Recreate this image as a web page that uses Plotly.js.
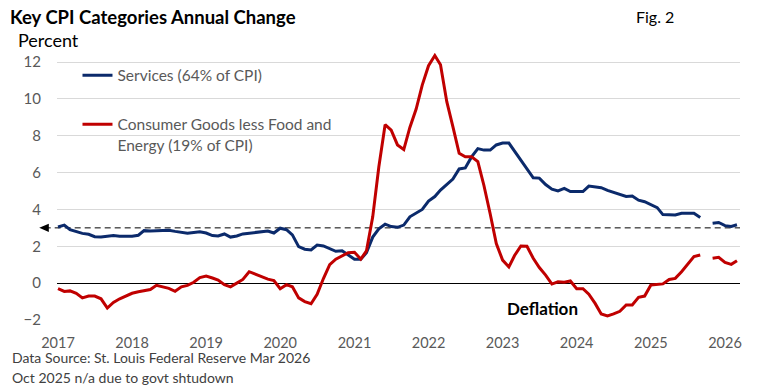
<!DOCTYPE html>
<html>
<head>
<meta charset="utf-8">
<script src="https://cdn.plot.ly/plotly-3.0.1.min.js"></script>
<style>
  html, body { margin: 0; padding: 0; background: #ffffff; }
  #chart { width: 769px; height: 390px; }
</style>
</head>
<body>
<div id="chart"></div>
<script>
// Monthly series, Jan 2017 .. Mar 2026 (Oct 2025 not available)
const startYear = 2017;
const startMonth = 1;

const servicesPct = [
  3.05, 3.15, 2.90, 2.78, 2.70, 2.65, 2.52, 2.50, 2.55, 2.58, 2.55, 2.55,   // 2017
  2.55, 2.60, 2.85, 2.83, 2.85, 2.85, 2.87, 2.81, 2.76, 2.71, 2.75, 2.79,   // 2018
  2.72, 2.58, 2.56, 2.67, 2.50, 2.56, 2.67, 2.72, 2.76, 2.80, 2.83, 2.72,   // 2019
  2.98, 2.90, 2.62, 1.98, 1.84, 1.80, 2.07, 2.02, 1.89, 1.73, 1.76, 1.53,   // 2020
  1.30, 1.30, 1.65, 2.50, 2.95, 3.20, 3.07, 3.03, 3.15, 3.60, 3.80, 4.00,   // 2021
  4.45, 4.70, 5.05, 5.35, 5.65, 6.20, 6.25, 6.85, 7.30, 7.22, 7.22, 7.50,   // 2022
  7.60, 7.60, 7.15, 6.70, 6.20, 5.72, 5.70, 5.35, 5.10, 5.00, 5.14, 4.97,   // 2023
  4.97, 4.97, 5.27, 5.22, 5.18, 5.03, 4.92, 4.84, 4.70, 4.73, 4.50, 4.42,   // 2024
  4.28, 4.10, 3.72, 3.70, 3.70, 3.79, 3.79, 3.79, 3.56, null, 3.25, 3.29,   // 2025
  3.12, 3.08, 3.17                                                          // 2026
];

const coreGoodsPct = [
  -0.30, -0.45, -0.42, -0.55, -0.80, -0.70, -0.70, -0.85, -1.35, -1.05, -0.85, -0.72, // 2017
  -0.55, -0.47, -0.42, -0.35, -0.12, -0.22, -0.28, -0.44, -0.20, -0.12, 0.05, 0.30,   // 2018
  0.38, 0.28, 0.17, -0.08, -0.20, 0.00, 0.20, 0.62, 0.48, 0.35, 0.22, 0.14,           // 2019
  -0.30, -0.08, -0.20, -0.80, -1.00, -1.12, -0.60, 0.25, 1.00, 1.30, 1.50, 1.65,      // 2020
  1.68, 1.30, 1.75, 3.60, 6.30, 8.60, 8.30, 7.50, 7.25, 8.45, 9.45, 10.75,            // 2021
  11.80, 12.35, 11.85, 9.85, 8.50, 7.05, 6.86, 6.86, 6.60, 5.30, 3.75, 2.15,          // 2022
  1.25, 0.88, 1.50, 2.02, 2.00, 1.35, 0.85, 0.44, -0.05, 0.07, 0.05, 0.12,            // 2023
  -0.30, -0.30, -0.60, -1.10, -1.67, -1.78, -1.67, -1.53, -1.18, -1.18, -0.77, -0.70, // 2024
  -0.10, -0.05, -0.04, 0.20, 0.26, 0.62, 1.04, 1.44, 1.53, null, 1.35, 1.40,          // 2025
  1.13, 1.02, 1.22                                                                    // 2026
];

const seriesNames = [
  "Services (64% of CPI)",
  "Consumer Goods less Food and<br>Energy (19% of CPI)"
];
const seriesColors = ["#0B2A6B", "#C00000"];

const yearLabels = ["2017","2018","2019","2020","2021","2022","2023","2024","2025","2026"];
const yTicks = [-2, 0, 2, 4, 6, 8, 10, 12];
const targetRate = 3;

function monthDate(i) {
  const total = (startMonth - 1) + i;
  const y = startYear + Math.floor(total / 12);
  const m = (total % 12) + 1;
  return y + "-" + String(m).padStart(2, "0") + "-01";
}
const months = servicesPct.map((_, i) => monthDate(i));
const yearTickVals = yearLabels.map(y => y + "-01-01");

const FONT = "Lato, 'Open Sans', sans-serif";

const traces = [
  {
    x: months, y: servicesPct, type: "scatter", mode: "lines",
    name: seriesNames[0], legendgroup: "a",
    line: { color: seriesColors[0], width: 3 },
    connectgaps: false, hoverinfo: "skip"
  },
  {
    x: months, y: coreGoodsPct, type: "scatter", mode: "lines",
    name: seriesNames[1], legendgroup: "b",
    line: { color: seriesColors[1], width: 3 },
    connectgaps: false, hoverinfo: "skip"
  }
];

const layout = {
  width: 769, height: 390,
  margin: { l: 57, r: 29, t: 53, b: 70 },
  paper_bgcolor: "#ffffff", plot_bgcolor: "#ffffff",
  font: { family: FONT, color: "#595959" },
  title: {
    text: "<b>Key CPI Categories Annual Change</b>",
    x: 0.013, xref: "container", xanchor: "left",
    y: 0.956, yref: "container", yanchor: "middle",
    font: { family: FONT, size: 18.5, color: "#000000" }
  },
  showlegend: true,
  legend: {
    x: 0.030, y: 0.979, xanchor: "left", yanchor: "top",
    bgcolor: "rgba(0,0,0,0)",
    font: { family: FONT, size: 15.5, color: "#595959" },
    traceorder: "grouped", tracegroupgap: 26, valign: "top",
    itemwidth: 30
  },
  xaxis: {
    type: "date",
    range: ["2016-12-27", "2026-03-16"],
    tickmode: "array", tickvals: yearTickVals, ticktext: yearLabels,
    showgrid: false, zeroline: false, showline: false, ticks: "",
    ticklabelstandoff: 12,
    tickfont: { family: FONT, size: 14.5, color: "#595959" },
    fixedrange: true
  },
  yaxis: {
    range: [-2, 12.49],
    tickmode: "array", tickvals: yTicks,
    showgrid: true, gridcolor: "#D9D9D9", gridwidth: 1,
    zeroline: true, zerolinecolor: "#000000", zerolinewidth: 1,
    showline: false, ticks: "",
    ticklabelstandoff: 15,
    tickfont: { family: FONT, size: 15, color: "#595959" },
    fixedrange: true
  },
  shapes: [
    {
      type: "line", xref: "paper", yref: "y",
      x0: -0.018, x1: 1, y0: targetRate, y1: targetRate,
      line: { color: "#000000", width: 1, dash: "6px,4px" }, layer: "below"
    },
    {
      type: "path", xref: "paper", yref: "y",
      path: "M -0.026 " + targetRate + " L -0.012 " + (targetRate + 0.23) +
            " L -0.012 " + (targetRate - 0.23) + " Z",
      fillcolor: "#000000", line: { color: "#000000", width: 0 }
    }
  ],
  annotations: [
    {
      text: "Percent", xref: "paper", yref: "paper",
      x: -0.060, y: 1.05, xanchor: "left", yanchor: "middle",
      showarrow: false, font: { family: FONT, size: 18, color: "#000000" }
    },
    {
      text: "Fig. 2", xref: "paper", yref: "paper",
      x: 0.845, y: 1.135, xanchor: "left", yanchor: "middle",
      showarrow: false, font: { family: FONT, size: 16, color: "#000000" }
    },
    {
      text: "<b>Deflation</b>", xref: "x", yref: "y",
      x: "2023-07-15", y: -1.35, xanchor: "center", yanchor: "middle",
      showarrow: false, font: { family: FONT, size: 17, color: "#000000" }
    },
    {
      text: "Data Source: St. Louis Federal Reserve Mar 2026", xref: "paper", yref: "paper",
      x: -0.069, y: -0.142, xanchor: "left", yanchor: "middle",
      showarrow: false, font: { family: FONT, size: 14, color: "#404040" }
    },
    {
      text: "Oct 2025 n/a due to govt shtudown", xref: "paper", yref: "paper",
      x: -0.069, y: -0.217, xanchor: "left", yanchor: "middle",
      showarrow: false, font: { family: FONT, size: 14, color: "#404040" }
    }
  ]
};

Plotly.newPlot("chart", traces, layout, { staticPlot: true, displayModeBar: false });
</script>
</body>
</html>
